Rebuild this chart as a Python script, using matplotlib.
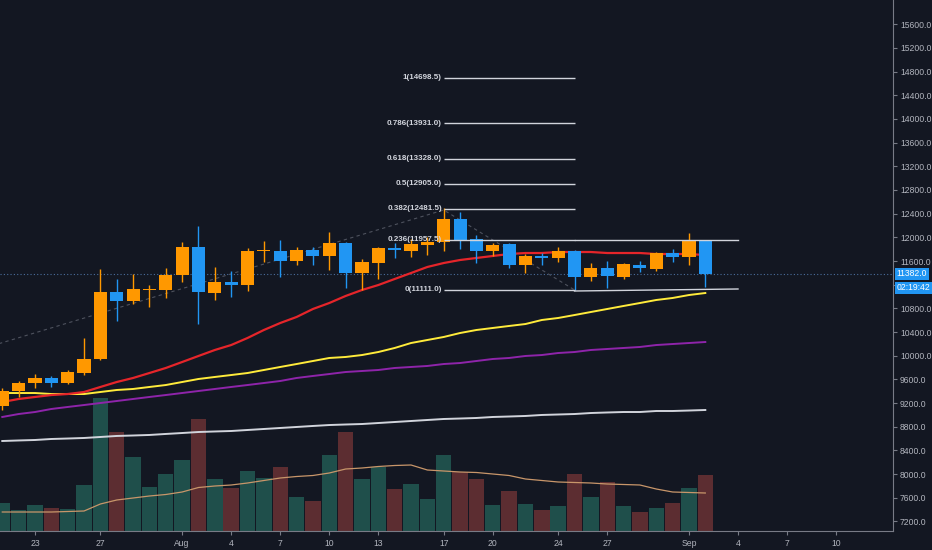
import matplotlib
matplotlib.use('Agg')
import matplotlib.pyplot as plt
import matplotlib.dates as mdates
import matplotlib.transforms as mtransforms
import pandas as pd

# daily candles, 21 Jul 2020 .. 2 Sep 2020
dates = pd.date_range('2020-07-21', periods=44, freq='D')
opens = [9150, 9403, 9538, 9623, 9538, 9707, 9944, 11076, 10924, 11110,
         11110, 11363, 11837, 11059, 11245, 11194, 11769, 11769, 11600, 11786,
         11685, 11904, 11397, 11566, 11820, 11769, 11870, 11921, 12310, 11972,
         11769, 11887, 11532, 11685, 11651, 11769, 11330, 11482, 11330, 11532,
         11465, 11735, 11668, 11938]
highs = [9454, 9572, 9690, 9656, 9758, 10299, 11465, 11296, 11380, 11194,
         11482, 11921, 12191, 11499, 11431, 11820, 11938, 11955, 11837, 11837,
         12090, 11921, 11634, 11837, 11904, 11972, 12006, 12496, 12428, 12039,
         11904, 11904, 11718, 11735, 11837, 11786, 11566, 11600, 11566, 11600,
         11752, 11803, 12073, 11955]
lows = [9080, 9302, 9454, 9471, 9521, 9673, 9927, 10586, 10873, 10823,
        10975, 11245, 10535, 10941, 10992, 11093, 11583, 11330, 11532, 11532,
        11448, 11144, 11110, 11296, 11651, 11668, 11701, 11769, 11803, 11566,
        11685, 11482, 11397, 11532, 11583, 11111, 11262, 11144, 11296, 11414,
        11431, 11583, 11532, 11161]
closes = [9403, 9538, 9623, 9538, 9724, 9944, 11076, 10924, 11127, 11127,
          11363, 11837, 11076, 11245, 11194, 11769, 11780, 11600, 11786, 11685,
          11904, 11397, 11583, 11820, 11786, 11887, 11921, 12310, 11955, 11769,
          11870, 11532, 11685, 11651, 11769, 11330, 11482, 11347, 11549, 11482,
          11735, 11668, 11938, 11382]
volume = [28, 21, 26, 23, 22, 46, 133, 99, 74, 44, 57, 71, 112, 52, 43, 60, 53, 64, 34, 30,
          76, 99, 52, 64, 42, 47, 32, 76, 59, 52, 26, 40, 27, 21, 25, 57, 34, 49, 25, 19,
          23, 28, 43, 56]
volume_ma = [19, 19, 19, 19, 19.5, 20, 27, 31, 33, 35, 36.5, 39, 43.5, 45, 46, 48, 50.5, 53,
             54.5, 55.5, 58, 62, 63, 64.5, 65.5, 66, 61, 60, 59, 58.5, 57, 55.5, 52, 50.5, 49,
             48.5, 48, 47, 46.5, 46, 42, 39, 38.5, 38]

ma_red = [9217, 9268, 9302, 9335, 9352, 9386, 9471, 9555, 9623, 9707, 9792, 9893, 9995, 10096,
          10180, 10299, 10434, 10552, 10654, 10789, 10890, 11009, 11110, 11194, 11296, 11397,
          11499, 11566, 11617, 11651, 11685, 11718, 11735, 11735, 11752, 11752, 11752, 11735,
          11735, 11735, 11718, 11718, 11718, 11701]
ma_yellow = [9369, 9369, 9369, 9352, 9352, 9352, 9386, 9420, 9437, 9471, 9504, 9555, 9606, 9640,
             9673, 9707, 9758, 9809, 9859, 9910, 9961, 9978, 10011, 10062, 10130, 10214, 10265,
             10316, 10383, 10434, 10468, 10502, 10535, 10603, 10637, 10687, 10738, 10789, 10840,
             10890, 10941, 10975, 11025, 11059]
ma_purple = [8964, 9014, 9048, 9099, 9133, 9166, 9200, 9234, 9268, 9302, 9335, 9369, 9403, 9437,
             9471, 9504, 9538, 9572, 9623, 9657, 9690, 9724, 9741, 9758, 9792, 9809, 9826, 9859,
             9876, 9910, 9944, 9961, 9995, 10011, 10045, 10062, 10096, 10113, 10130, 10147,
             10180, 10197, 10214, 10231]
ma_white = [8558, 8567, 8575, 8592, 8600, 8609, 8626, 8643, 8651, 8660, 8677, 8693, 8710, 8719,
            8727, 8744, 8761, 8778, 8795, 8812, 8828, 8837, 8845, 8862, 8879, 8896, 8913, 8930,
            8938, 8947, 8964, 8972, 8981, 8998, 9006, 9014, 9031, 9040, 9048, 9048, 9065, 9065,
            9073, 9082]

# fibonacci retracement drawing
fib_levels = ['0', '0.236', '0.382', '0.5', '0.618', '0.786', '1']
fib_prices = [11111.0, 11957.5, 12481.5, 12905.0, 13328.0, 13931.0, 14698.5]
fib_start, fib_end = '2020-08-17', '2020-08-25'
trend_dates = ['2020-07-20', '2020-08-17', '2020-08-25']
trend_prices = [10137, 12462, 11111]
range_dates = ['2020-08-25', '2020-09-04']
range_top = [11957.5, 11957.5]
range_bottom = [11093, 11127]

tick_dates = ['2020-07-23', '2020-07-27', '2020-08-01', '2020-08-04', '2020-08-07', '2020-08-10',
              '2020-08-13', '2020-08-17', '2020-08-20', '2020-08-24', '2020-08-27', '2020-09-01',
              '2020-09-04', '2020-09-07', '2020-09-10']
tick_labels = ['23', '27', 'Aug', '4', '7', '10', '13', '17', '20', '24', '27', 'Sep', '4', '7', '10']
price_ticks = list(range(7200, 15601, 400))
hidden_tick = 11200  # covered by the price / countdown labels
last_price = 11382.0
countdown = '02:19:42'

BG = '#131722'
TXT = '#b2b5be'
UP = '#ff9800'
DOWN = '#2196f3'
plt.rcParams['font.family'] = ['Liberation Sans', 'DejaVu Sans']

fig = plt.figure(figsize=(9.32, 5.5), dpi=100, facecolor=BG)
ax = fig.add_axes([0, 19 / 550, 893 / 932, 531 / 550])
axv = ax.twinx()
ax.set_zorder(2)
axv.set_zorder(1)
ax.patch.set_visible(False)
axv.patch.set_facecolor(BG)

x = mdates.date2num(dates)
d0 = x[0]

# volume
vol_colors = ['#1f4f4b' if c >= o else '#5c2d31' for o, c in zip(opens, closes)]
axv.bar(x, volume, width=0.94, color=vol_colors, linewidth=0)
axv.plot(x, volume_ma, color='#c8966a', lw=0.9)
axv.set_ylim(0, 531)
axv.axis('off')

# moving averages
ax.plot(x, ma_white, color='#d1d4dc', lw=1.4)
ax.plot(x, ma_purple, color='#8e24aa', lw=1.4)
ax.plot(x, ma_yellow, color='#ffeb3b', lw=1.4)
ax.plot(x, ma_red, color='#e5252a', lw=1.6)

# candles
colors = [UP if c >= o else DOWN for o, c in zip(opens, closes)]
bottoms = [min(o, c) for o, c in zip(opens, closes)]
heights = [max(abs(c - o), 15) for o, c in zip(opens, closes)]
ax.vlines(x, lows, highs, colors=colors, lw=1, zorder=3)
ax.bar(x, heights, bottom=bottoms, width=0.8, color=colors, linewidth=0, zorder=4)

# last price line
ax.axhline(last_price, color='#4a6d9c', lw=0.8, ls=(0, (1, 2)), zorder=1)

# fib retracement
fs = mdates.date2num(pd.Timestamp(fib_start))
fe = mdates.date2num(pd.Timestamp(fib_end))
ax.plot(mdates.date2num(pd.to_datetime(trend_dates)), trend_prices,
        color='#4e525e', lw=0.8, ls=(0, (3, 3)), zorder=2)
for lvl, p in zip(fib_levels, fib_prices):
    ax.hlines(p, fs, fe, color='#d1d4dc', lw=1, zorder=5)
    ax.text(fs - 0.12, p, f'{lvl}({p:.1f})', color='#d1d4dc', fontsize=5.8,
            fontweight='bold', ha='right', va='center', zorder=6)
rd = mdates.date2num(pd.to_datetime(range_dates))
ax.plot(rd, range_top, color='#d1d4dc', lw=1, zorder=5)
ax.plot(rd, range_bottom, color='#d1d4dc', lw=1, zorder=5)

ax.set_xlim(d0 - 0.14, d0 + 54.48)
ax.set_ylim(7037, 16011)

ax.set_xticks(mdates.date2num(pd.to_datetime(tick_dates)))
ax.set_xticklabels(tick_labels)
ax.yaxis.tick_right()
ax.set_yticks(price_ticks)
ax.set_yticklabels(['' if p == hidden_tick else f'{p:.1f}' for p in price_ticks])
ax.tick_params(colors='#787b86', labelcolor=TXT, labelsize=6.2, length=3, width=0.8)
ax.tick_params(axis='y', pad=2)
ax.tick_params(axis='x', pad=3)
for s in ['top', 'left']:
    ax.spines[s].set_visible(False)
for s in ['right', 'bottom']:
    ax.spines[s].set_color('#787b86')
    ax.spines[s].set_linewidth(0.8)

trans = mtransforms.blended_transform_factory(ax.transAxes, ax.transData)
for val, txt in [(last_price, f'{last_price:.1f}'), (11145, countdown)]:
    ax.text(1.004, val, txt, transform=trans, color='white', fontsize=6.2,
            ha='left', va='center', clip_on=False, zorder=10,
            bbox=dict(boxstyle='square,pad=0.2', facecolor=DOWN, edgecolor='none'))

fig.savefig('out.png', dpi=100, facecolor=BG)
